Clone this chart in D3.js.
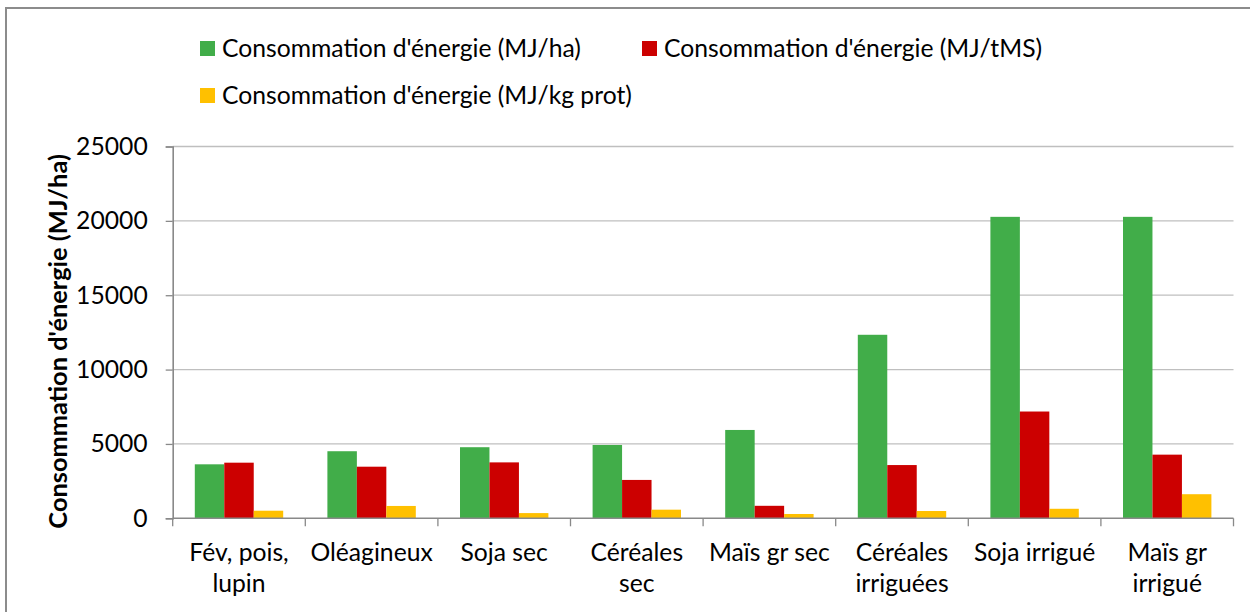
<!DOCTYPE html>
<html>
<head>
<meta charset="utf-8">
<script src="https://cdn.jsdelivr.net/npm/d3@7"></script>
<style>
  html, body { margin: 0; background: #fff; overflow: hidden; }
  svg { display: block; font-family: Lato, "Open Sans", sans-serif; overflow: hidden; }
</style>
</head>
<body>
<script>
// categories (split into the two lines used under the axis)
var categories = ["Fév, pois, lupin", "Oléagineux", "Soja sec", "Céréales sec",
    "Maïs gr sec", "Céréales irriguées", "Soja irrigué", "Maïs gr irrigué"];
var categoryLines = [["Fév, pois,", "lupin"], ["Oléagineux"], ["Soja sec"], ["Céréales", "sec"],
    ["Maïs gr sec"], ["Céréales", "irriguées"], ["Soja irrigué"], ["Maïs gr", "irrigué"]];

var seriesNames = ["Consommation d'énergie (MJ/ha)", "Consommation d'énergie (MJ/tMS)",
    "Consommation d'énergie (MJ/kg prot)"];
var mjHa     = [3630, 4510, 4780, 4930, 5940, 12340, 20270, 20270];
var mjTms    = [3740, 3470, 3760, 2580, 840, 3580, 7180, 4280];
var mjKgProt = [510, 830, 350, 580, 290, 490, 640, 1620];
var yTicks = [0, 5000, 10000, 15000, 20000, 25000];

var colors = ["#41ad49", "#cc0000", "#ffc000"];
var allSeries = [mjHa, mjTms, mjKgProt];

var width = 1250, height = 612;
var fontSize = 24.7;

var svg = d3.select("body").append("svg")
    .attr("width", width)
    .attr("height", height);

// outer chart border (right and bottom edges lie outside the picture)
svg.append("path")
    .attr("d", "M6," + height + "V8H" + width)
    .attr("fill", "none")
    .attr("stroke", "#8c8c8c")
    .attr("stroke-width", 2);

var x = d3.scaleBand()
    .domain(categories)
    .range([172.7, 1233.5]);

var xInner = d3.scaleBand()
    .domain(d3.range(allSeries.length))
    .range([0, x.bandwidth()])
    .paddingInner(0)
    .paddingOuter(0.75);

var y = d3.scaleLinear()
    .domain([0, 25000])
    .range([518.3, 146.5]);

// gridlines
svg.append("g")
    .selectAll("line")
    .data(yTicks.filter(function(d) { return d > 0; }))
    .enter().append("line")
    .attr("x1", x.range()[0]).attr("x2", x.range()[1])
    .attr("y1", function(d) { return y(d); })
    .attr("y2", function(d) { return y(d); })
    .attr("stroke", "#bfbfbf")
    .attr("stroke-width", 1.3);

// bars
var rows = categories.map(function(c, i) {
    return allSeries.map(function(s, k) { return {cat: c, k: k, value: s[i]}; });
});

svg.append("g")
    .selectAll("g")
    .data(rows)
    .enter().append("g")
    .attr("transform", function(d) { return "translate(" + x(d[0].cat) + ",0)"; })
    .selectAll("rect")
    .data(function(d) { return d; })
    .enter().append("rect")
    .attr("x", function(d) { return xInner(d.k); })
    .attr("width", xInner.bandwidth())
    .attr("y", function(d) { return y(d.value); })
    .attr("height", function(d) { return y(0) - y(d.value); })
    .attr("fill", function(d) { return colors[d.k]; });

// y axis
var yAxis = svg.append("g")
    .attr("transform", "translate(" + x.range()[0] + ",0)")
    .call(d3.axisLeft(y).tickValues(yTicks).tickSize(7).tickPadding(18).tickFormat(d3.format("d")));
yAxis.select(".domain").attr("stroke", "#898989").attr("stroke-width", 1.6);
yAxis.selectAll(".tick line").attr("stroke", "#898989").attr("stroke-width", 1.3);
yAxis.selectAll(".tick text")
    .attr("font-family", "Lato, sans-serif")
    .attr("font-size", fontSize)
    .attr("fill", "#000");

// x axis line with category boundary ticks
var xAxis = svg.append("g");
xAxis.append("line")
    .attr("x1", x.range()[0]).attr("x2", x.range()[1])
    .attr("y1", y(0)).attr("y2", y(0))
    .attr("stroke", "#898989").attr("stroke-width", 1.6);
xAxis.selectAll(".bt")
    .data(categories.map(function(c) { return x(c); }).concat([x.range()[1]]))
    .enter().append("line")
    .attr("x1", function(d) { return d; }).attr("x2", function(d) { return d; })
    .attr("y1", y(0)).attr("y2", y(0) + 8)
    .attr("stroke", "#898989").attr("stroke-width", 1.3);

xAxis.selectAll(".lbl")
    .data(categories)
    .enter().append("text")
    .attr("text-anchor", "middle")
    .attr("font-size", fontSize)
    .attr("fill", "#000")
    .attr("x", function(d) { return x(d) + x.bandwidth() / 2; })
    .attr("y", 561)
    .selectAll("tspan")
    .data(function(d, i) { return categoryLines[i]; })
    .enter().append("tspan")
    .attr("x", function() { return d3.select(this.parentNode).attr("x"); })
    .attr("dy", function(d, i) { return i === 0 ? 0 : 31; })
    .text(function(d) { return d; });

// y axis title
svg.append("text")
    .attr("transform", "translate(67," + ((y(0) + y(25000)) / 2 + 9) + ") rotate(-90)")
    .attr("text-anchor", "middle")
    .attr("font-size", 25.4)
    .attr("font-weight", "bold")
    .attr("fill", "#000")
    .text("Consommation d'énergie (MJ/ha)");

// legend
var legendPos = [[200, 57], [642, 57], [200, 104]];
var legend = svg.append("g")
    .selectAll("g")
    .data(seriesNames)
    .enter().append("g")
    .attr("transform", function(d, i) { return "translate(" + legendPos[i][0] + "," + legendPos[i][1] + ")"; });
legend.append("rect")
    .attr("x", 0).attr("y", -16)
    .attr("width", 15).attr("height", 15)
    .attr("fill", function(d, i) { return colors[i]; });
legend.append("text")
    .attr("x", 22)
    .attr("font-size", fontSize)
    .attr("fill", "#000")
    .text(function(d) { return d; });
</script>
</body>
</html>
